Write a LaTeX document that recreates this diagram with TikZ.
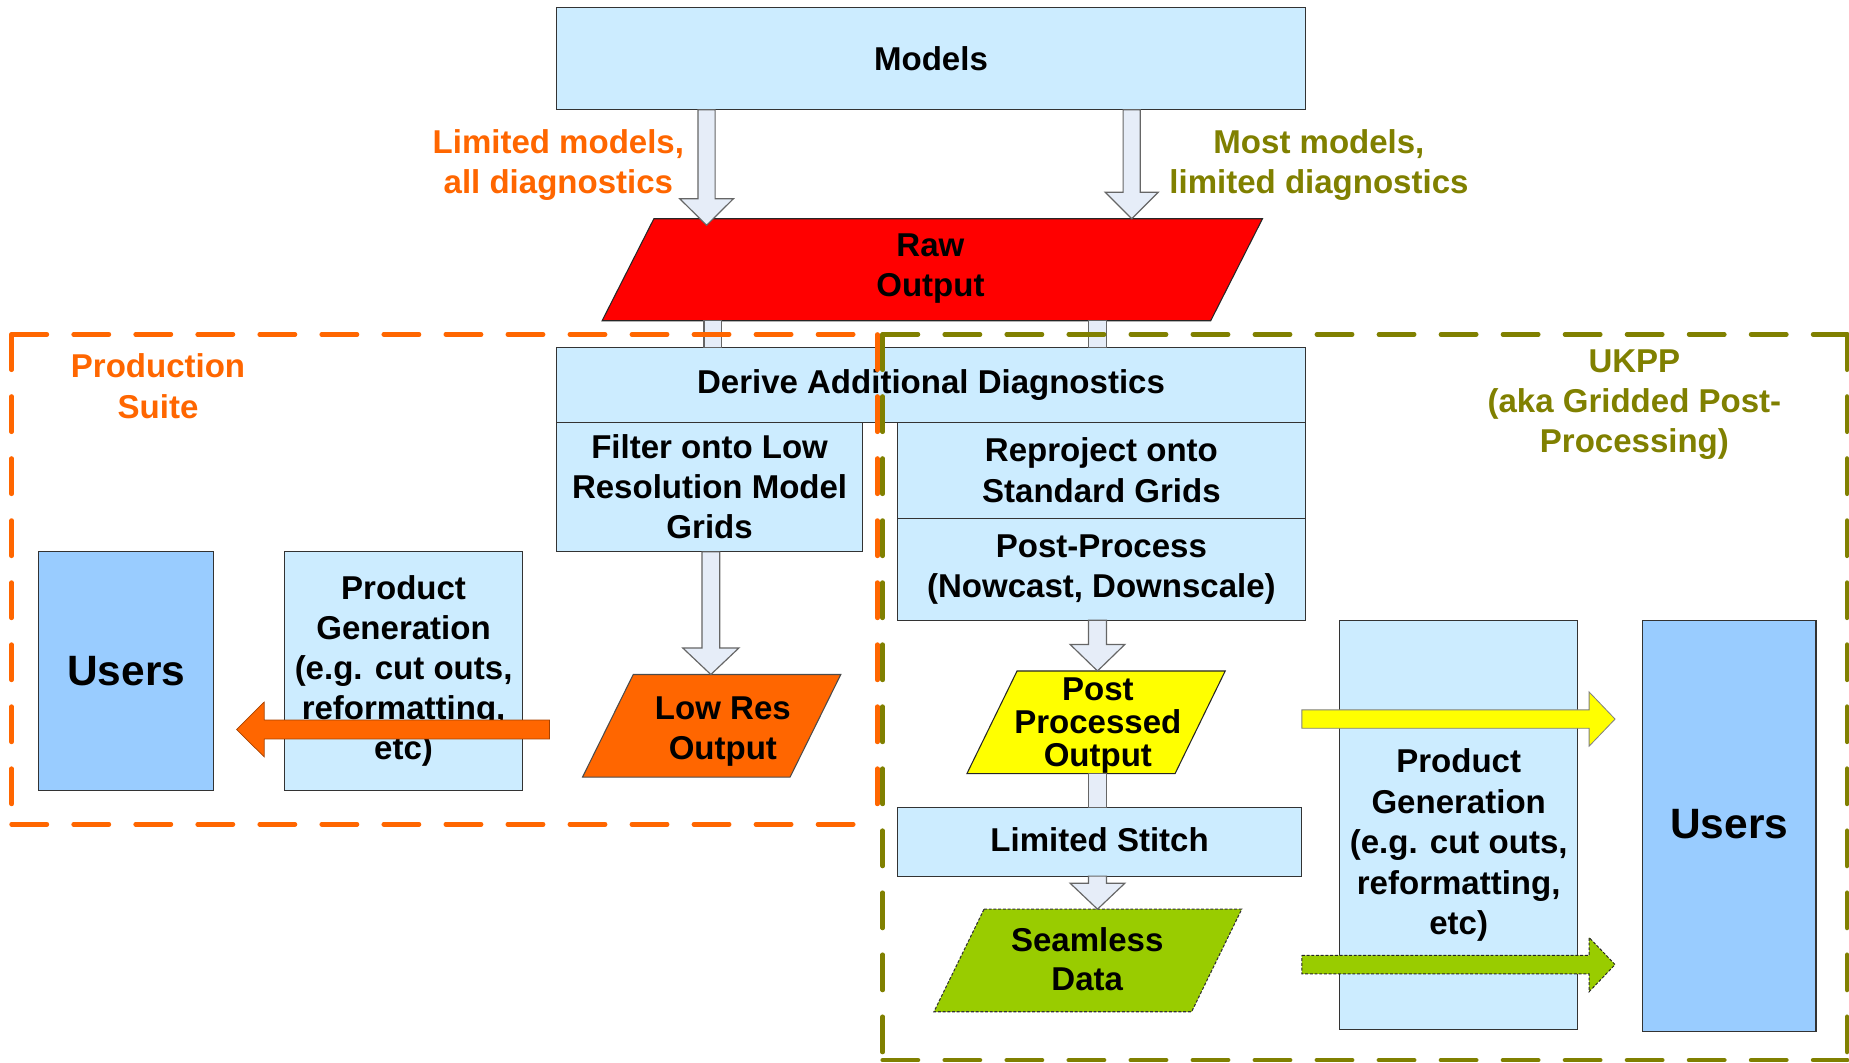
\documentclass[tikz,border=0pt]{standalone}
\usepackage{fontspec}
\setmainfont{Liberation Sans}
\usetikzlibrary{calc}

\definecolor{boxblue}{HTML}{CCECFF}
\definecolor{userblue}{HTML}{99CCFF}
\definecolor{feedfill}{HTML}{E6EDF8}
\definecolor{prodorange}{HTML}{FF6600}
\definecolor{ukppolive}{HTML}{808000}
\definecolor{rawred}{HTML}{FF0000}
\definecolor{ppyellow}{HTML}{FFFF00}
\definecolor{seamgreen}{HTML}{99CC00}

\newcommand\diagfont{\bfseries\fontsize{28}{34}\selectfont}
\newcommand\usersfont{\bfseries\fontsize{36}{40}\selectfont}

% block arrow: [style]{tail}{tip}{half shaft}{half head}{head length}
\newcommand\blockarrow[6][]{%
  \coordinate (bahead) at ($(#3)!#6!(#2)$);
  \path[#1] ($(#2)!#4!90:(#3)$) -- ($(bahead)!#4!90:(#3)$)
    -- ($(bahead)!#5!90:(#3)$) -- (#3) -- ($(bahead)!#5!-90:(#3)$)
    -- ($(bahead)!#4!-90:(#3)$) -- ($(#2)!#4!-90:(#3)$) -- cycle;}

% data parallelogram drawn inside the frame node #2, top edge shifted right by #3
\newcommand\paral[3][]{%
  \path[#1] ($(#2.north west)+(#3,0)$) -- (#2.north east)
    -- ($(#2.south east)+(-#3,0)$) -- (#2.south west) -- cycle;}

\begin{document}
\begin{tikzpicture}[x=1pt,y=-1pt,
  box/.style={draw=black!80, line width=0.9pt, fill=boxblue, inner sep=0pt,
    outer sep=0pt, align=center, font=\diagfont},
  usersbox/.style={box, fill=userblue, font=\usersfont},
  frame/.style={inner sep=0pt, outer sep=0pt},
  paradraw/.style={draw=black!85, line width=0.9pt, line join=miter},
  txt/.style={align=center, inner sep=0pt, font=\diagfont},
  feed/.style={fill=feedfill, draw=black!60, line width=1pt, line join=miter},
  orangefeed/.style={fill=prodorange, draw=black!35!prodorange, line width=0.6pt},
  yellowfeed/.style={fill=ppyellow, draw=black!50, line width=0.7pt},
  greenfeed/.style={fill=seamgreen, draw=black!85, line width=0.8pt,
    dash pattern=on 2.5pt off 1.5pt},
  frameline/.style={line width=3.8pt, line cap=round, dash pattern=on 30pt off 22.6pt},
]
\useasboundingbox (0,0) rectangle (1568,901);

% ---- boxes ----
\node[box, minimum width=635, minimum height=87] (models) at (789.5,49.5) {Models};
\node[frame, minimum width=560, minimum height=86.5] (raw) at (790.6,228.75) {};
\paral[paradraw, fill=rawred]{raw}{43.9}
\node[txt] (rawtxt) at (789,227.5) {Raw\\Output};

\node[box, minimum width=635, minimum height=63] (derive) at (789.5,326.5) {Derive Additional Diagnostics};
\node[box, minimum width=259.5, minimum height=110] (filter) at (601.75,413)
  {Filter onto Low\\Resolution Model\\Grids};
\node[box, minimum width=346, minimum height=81.5] (reproj) at (934,398.75)
  {Reproject onto\\Standard Grids};
\node[box, minimum width=346, minimum height=86.5] (postproc) at (934,482.75)
  {Post-Process\\(Nowcast, Downscale)};

\node[frame, minimum width=219, minimum height=87] (lowres) at (603.5,615.5) {};
\paral[paradraw, draw=black!70, fill=prodorange]{lowres}{43}
\node[txt] (lowrestxt) at (613,620) {Low Res\\Output};

\node[box, minimum width=201.5, minimum height=202] (pgleft) at (342.25,569)
  {Product\\Generation\\(e.g. cut outs,\\reformatting,\\etc)};
\node[usersbox, minimum width=148, minimum height=202] (usersleft) at (107,569) {Users};

\node[frame, minimum width=219, minimum height=87] (ppo) at (929.5,612.5) {};
\paral[paradraw, fill=ppyellow]{ppo}{42.5}
\node[txt, font=\bfseries\fontsize{28}{28}\selectfont] (ppotxt) at (931,615) {Post\\Processed\\Output};

\node[box, minimum width=343, minimum height=58] (stitch) at (932.5,714) {};
\node[txt] (stitchtxt) at (932.5,712.5) {Limited Stitch};

\node[frame, minimum width=261, minimum height=87] (seam) at (922.5,814.5) {};
\paral[paradraw, draw=black!80, dash pattern=on 2.5pt off 1.5pt, fill=seamgreen]{seam}{42.5}
\node[txt, font=\bfseries\fontsize{28}{33}\selectfont] (seamtxt) at (922,813.5) {Seamless\\Data};

\node[box, minimum width=202, minimum height=347] (pgright) at (1237,699.5) {};
\node[txt, font=\bfseries\fontsize{28}{34.4}\selectfont] (pgrighttxt) at (1237,716.8)
  {Product\\Generation\\(e.g. cut outs,\\reformatting,\\etc)};
\node[usersbox, minimum width=147, minimum height=349] (usersright) at (1466.5,700.5) {};
\node[txt, font=\usersfont] (usersrighttxt) at (1466.5,699) {Users};

% ---- labels ----
\node[txt, text=prodorange] (limlabel) at (473.5,140) {Limited models,\\all diagnostics};
\node[txt, text=ukppolive] (mostlabel) at (1118.5,140) {Most models,\\limited diagnostics};
\node[txt, text=prodorange] (prodlabel) at (134,327.5) {Production\\Suite};
\node[txt, text=ukppolive] (ukpplabel) at (1386,343) {UKPP\\(aka Gridded Post-\\Processing)};

% ---- column positions of the feeds ----
\coordinate (colA) at (599.2,0);
\coordinate (colB) at (959.7,0);
\coordinate (colC) at (604.5,0);
\coordinate (colD) at (930.7,0);
\coordinate (colE) at (602.8,0);
\coordinate (rowY) at (0,609.8);
\coordinate (rowG) at (0,818);

% Models -> Raw Output
\coordinate (a1s) at (colA |- models.south);
\coordinate (a1t) at ($(colA |- raw.north)+(0,5.5)$);
\blockarrow[feed]{a1s}{a1t}{7.25pt}{22.8pt}{22.5pt}
\coordinate (a2s) at (colB |- models.south);
\coordinate (a2t) at (colB |- raw.north);
\blockarrow[feed]{a2s}{a2t}{7.25pt}{22.5pt}{22.5pt}

% Raw Output -> Derive Additional Diagnostics
\draw[feed] ($(colC |- raw.south)+(-7.5,0)$) rectangle ($(colC |- derive.north)+(7.5,0)$);
\draw[feed] ($(colD |- raw.south)+(-7.7,0)$) rectangle ($(colD |- derive.north)+(7.7,0)$);

% Filter -> Low Res Output
\coordinate (a3s) at (colE |- filter.south);
\coordinate (a3t) at (colE |- lowres.north);
\blockarrow[feed]{a3s}{a3t}{7.5pt}{23.8pt}{22.5pt}

% Post-Process -> Post Processed Output
\coordinate (a4s) at (colD |- postproc.south);
\coordinate (a4t) at (colD |- ppo.north);
\blockarrow[feed]{a4s}{a4t}{7.7pt}{23.2pt}{22.5pt}

% Post Processed Output -> Limited Stitch
\draw[feed] ($(colD |- ppo.south)+(-7.7,0)$) rectangle ($(colD |- stitch.north)+(7.7,0)$);

% Limited Stitch -> Seamless Data
\coordinate (a5s) at (colD |- stitch.south);
\coordinate (a5t) at (colD |- seam.north);
\blockarrow[feed]{a5s}{a5t}{7.7pt}{23.2pt}{22pt}

% Low Res Output -> Users (production suite)
\coordinate (orT) at (466,618.6);
\coordinate (orH) at ($(usersleft.east |- orT)+(19.6,0)$);
\blockarrow[orangefeed]{orT}{orH}{8pt}{23.2pt}{23.4pt}

% UKPP outputs -> Users
\coordinate (yeT) at (stitch.east |- rowY);
\coordinate (yeH) at ($(usersright.west |- rowY)+(-23.4,0)$);
\blockarrow[yellowfeed]{yeT}{yeH}{7.8pt}{23pt}{22pt}
\coordinate (grT) at (stitch.east |- rowG);
\coordinate (grH) at ($(usersright.west |- rowG)+(-23.4,0)$);
\blockarrow[greenfeed]{grT}{grH}{7.8pt}{23pt}{22pt}

% ---- dashed suite frames ----
\coordinate (oTL) at (9.8,283.6);  \coordinate (oTR) at (744,283.6);
\coordinate (oBR) at (744,699);    \coordinate (oBL) at (9.8,699);
\draw[frameline, prodorange] (oTL) -- (oTR);
\draw[frameline, prodorange] (oTR) -- (oBR);
\draw[frameline, prodorange] (oBL) -- (oBR);
\draw[frameline, prodorange] (oTL) -- (oBL);

\coordinate (uTL) at (748.5,283.6); \coordinate (uTR) at (1566.5,283.6);
\coordinate (uBR) at (1566.5,899);  \coordinate (uBL) at (748.5,899);
\draw[frameline, ukppolive] (uTL) -- (uTR);
\draw[frameline, ukppolive] (uTR) -- (uBR);
\draw[frameline, ukppolive] (uBL) -- (uBR);
\draw[frameline, ukppolive] (uTL) -- (uBL);
\end{tikzpicture}
\end{document}
